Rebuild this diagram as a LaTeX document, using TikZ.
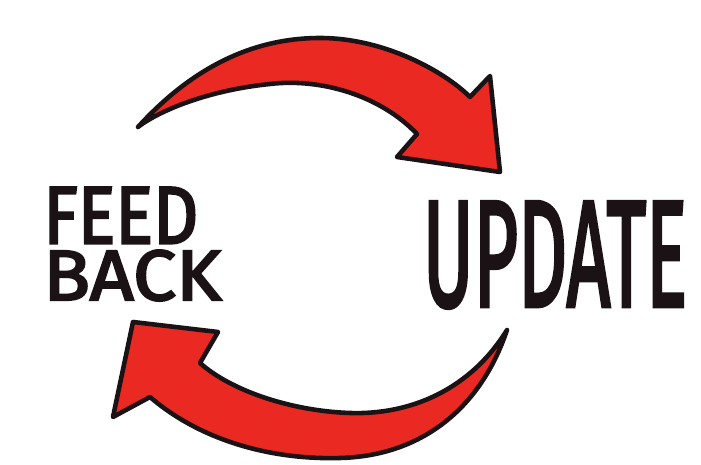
\documentclass[tikz,border=0pt]{standalone}
\usepackage{fontspec}
\setmainfont{Fira Sans}
\newfontfamily\markerfont{Fira Sans}[FakeBold=3]
\usepackage{xcolor}
\usepackage{tikz}
\usetikzlibrary{positioning}
\definecolor{loopred}{HTML}{EA2A22}
\definecolor{inkblack}{HTML}{1A1214}

\begin{document}
\begin{tikzpicture}[
    x=0.02cm, y=-0.02cm,
    bigarrow/.style={draw=inkblack, fill=loopred, line width=2.6pt, line join=round},
    word/.style={inner sep=0pt, text=inkblack, font=\markerfont},
]
\useasboundingbox (0,0) rectangle (701,465);
% top arrow: feedback -> update
\path[bigarrow] (138,127)
  .. controls (190,70) and (250,38) .. (320,38)
  .. controls (385,38) and (445,72) .. (470,97)
  -- (490,76) -- (500,172) -- (397,157) -- (417,134)
  .. controls (380,95) and (320,78) .. (270,84)
  .. controls (210,90) and (160,110) .. cycle;
% bottom arrow: update -> feedback
\path[bigarrow] (507,330)
  .. controls (470,390) and (410,415) .. (350,413)
  .. controls (290,411) and (230,390) .. (200,363)
  -- (218,332) -- (133,322) -- (113,417) -- (150,397)
  .. controls (200,440) and (270,460) .. (340,458)
  .. controls (420,456) and (480,410) .. cycle;
\node[word, align=left, anchor=north west] (feedback) at (43,187)
  {\resizebox{3.1cm}{1.12cm}{FEED}\\[0.1cm]\resizebox{3.56cm}{1.0cm}{BACK}};
\node[word] (update) at (555,255) {\resizebox{5.28cm}{2.08cm}{UPDATE}};
\end{tikzpicture}
\end{document}
